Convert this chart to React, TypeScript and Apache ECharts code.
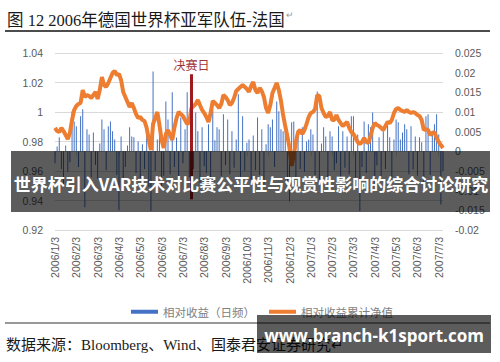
import React, { useEffect, useRef } from 'react';
import * as echarts from 'echarts';

const monthLabels = [
  '2006/1/3', '2006/2/3', '2006/3/3', '2006/4/3', '2006/5/3', '2006/6/3', '2006/7/3',
  '2006/8/3', '2006/9/3', '2006/10/3', '2006/11/3', '2006/12/3', '2007/1/3', '2007/2/3',
  '2007/3/3', '2007/4/3', '2007/5/3', '2007/6/3', '2007/7/3',
];
const pointsPerMonth = 10;
const trailingPoints = 2;

// 相对收益累计净值 (left axis)
const netValue = [
  0.9892, 0.9871, 0.9864, 0.9892, 0.9871, 0.9844, 0.9817, 0.9858, 0.9946, 1.0014,
  1.0041, 1.0054, 1.0061, 1.0149, 1.0102, 1.0115, 1.0108, 1.0095, 1.0115, 1.0136,
  1.0088, 1.0149, 1.0237, 1.0183, 1.0170, 1.0197, 1.0231, 1.0264, 1.0278, 1.0251,
  1.0258, 1.0217, 1.0136, 1.0102, 1.0068, 1.0034, 1.0061, 1.0027, 0.9986, 0.9959,
  0.9966, 0.9946, 0.9939, 0.9892, 0.9810, 0.9742, 0.9919, 0.9959, 1.0000, 0.9912,
  0.9810, 0.9756, 0.9851, 0.9878, 0.9844, 0.9810, 0.9892, 0.9959, 1.0000, 0.9986,
  0.9973, 0.9946, 0.9919, 0.9932, 1.0027, 1.0041, 1.0054, 1.0081, 1.0047, 1.0014,
  0.9993, 0.9966, 0.9932, 0.9993, 1.0075, 1.0061, 1.0047, 1.0027, 1.0054, 1.0115,
  1.0102, 1.0081, 1.0047, 1.0061, 1.0095, 1.0142, 1.0156, 1.0170, 1.0183, 1.0170,
  1.0156, 1.0136, 1.0176, 1.0203, 1.0149, 1.0129, 1.0163, 1.0142, 1.0102, 1.0027,
  0.9993, 1.0047, 1.0129, 1.0163, 1.0197, 1.0149, 1.0075, 0.9980, 0.9905, 0.9837,
  0.9756, 0.9634, 0.9708, 0.9797, 0.9864, 0.9878, 0.9851, 0.9878, 0.9919, 0.9966,
  0.9993, 1.0000, 1.0020, 1.0115, 1.0108, 1.0027, 0.9993, 0.9966, 0.9973, 1.0000,
  0.9946, 0.9946, 0.9980, 0.9946, 0.9925, 0.9905, 0.9919, 0.9932, 0.9892, 0.9864,
  0.9851, 0.9824, 0.9797, 0.9783, 0.9797, 0.9824, 0.9797, 0.9790, 0.9837, 0.9892,
  0.9925, 0.9912, 0.9905, 0.9892, 0.9878, 0.9905, 0.9932, 0.9925, 0.9946, 0.9993,
  1.0020, 1.0027, 1.0014, 1.0007, 1.0000, 1.0014, 1.0000, 0.9993, 1.0000, 0.9993,
  0.9980, 0.9973, 0.9946, 0.9878, 0.9885, 0.9878, 0.9844, 0.9858, 0.9864, 0.9824,
  0.9797, 0.9776, 0.9756,
];

// 相对收益（日频） (right axis)
const dailyReturn = [
  -0.0030, 0.0012, 0.0036, -0.0045, -0.0084, 0.0015, -0.0052, -0.0028, 0.0102, 0.0076,
  0.0064, -0.0040, 0.0089, 0.0107, -0.0142, 0.0056, 0.0043, -0.0065, 0.0048, -0.0035,
  -0.0070, 0.0020, 0.0081, 0.0056, -0.0048, 0.0064, 0.0076, 0.0051, 0.0030, -0.0060,
  -0.0150, 0.0038, -0.0075, -0.0040, 0.0015, 0.0061, 0.0038, 0.0036, -0.0055, 0.0025,
  -0.0068, 0.0018, -0.0045, 0.0048, -0.0090, -0.0152, 0.0203, -0.0050, 0.0030, 0.0086,
  -0.0095, -0.0062, 0.0127, 0.0081, -0.0058, 0.0150, -0.0040, 0.0035, -0.0072, 0.0086,
  -0.0030, 0.0056, 0.0150, -0.0066, 0.0040, -0.0045, 0.0099, 0.0051, -0.0080, 0.0061,
  -0.0038, -0.0055, 0.0069, -0.0070, 0.0107, 0.0028, 0.0061, 0.0056, -0.0062, 0.0094,
  -0.0035, 0.0081, -0.0058, 0.0051, -0.0042, 0.0030, 0.0145, -0.0068, 0.0089, -0.0050,
  0.0022, 0.0030, -0.0075, 0.0040, -0.0048, 0.0086, -0.0060, 0.0056, -0.0085, 0.0018,
  0.0069, 0.0061, 0.0081, -0.0040, 0.0127, 0.0102, 0.0056, 0.0051, 0.0081, -0.0098,
  -0.0127, 0.0074, 0.0076, -0.0070, 0.0036, -0.0045, 0.0061, -0.0052, 0.0025, 0.0030,
  0.0056, 0.0043, -0.0060, 0.0152, -0.0078, 0.0020, 0.0061, 0.0038, -0.0065, 0.0051,
  0.0038, -0.0048, -0.0030, 0.0064, -0.0070, 0.0051, -0.0042, 0.0038, -0.0058, 0.0089,
  0.0089, -0.0066, 0.0043, -0.0152, -0.0040, 0.0076, -0.0055, 0.0069, 0.0061, 0.0099,
  -0.0084, -0.0036, 0.0036, -0.0062, 0.0051, -0.0045, 0.0076, 0.0036, -0.0070, 0.0030,
  0.0081, 0.0074, 0.0030, 0.0048, 0.0069, 0.0056, -0.0058, 0.0064, -0.0046, 0.0038,
  -0.0062, 0.0036, 0.0023, -0.0080, 0.0089, 0.0094, -0.0060, 0.0048, 0.0069, 0.0094,
  0.0043, -0.0135, -0.0050,
];

const finalDayIndex = 64;
const finalDayTop = 0.0196;
const finalDayBottom = -0.0122;
const finalDayLabelValue = 0.0221;

const titleText = '图 12 2006年德国世界杯亚军队伍-法国';
const sourceText = '数据来源：Bloomberg、Wind、国泰君安证券研究';
const bannerText = '世界杯引入VAR技术对比赛公平性与观赏性影响的综合讨论研究';
const siteText = 'www.branch-k1sport.com';

function buildCategories(): string[] {
  const cats: string[] = [];
  monthLabels.forEach((m, i) => {
    cats.push(m);
    const fill = i < monthLabels.length - 1 ? pointsPerMonth - 1 : trailingPoints;
    for (let j = 1; j <= fill; j++) cats.push(m + '#' + j);
  });
  return cats;
}

export default function App() {
  const ref = useRef<HTMLDivElement>(null);
  useEffect(() => {
    if (!ref.current) return;
    const chart = echarts.init(ref.current, null, { renderer: 'svg' });
    const categories = buildCategories();
    const showTick = (i: number) => i % pointsPerMonth === 0;
    const cjk = '"Noto Sans CJK SC", sans-serif';
    chart.setOption({
      animation: false,
      backgroundColor: '#ffffff',
      grid: { left: 55, right: 57, top: 53, bottom: 132 },
      legend: {
        left: 126,
        top: 301,
        itemWidth: 27,
        itemHeight: 4,
        itemGap: 14,
        textStyle: { color: '#808080', fontSize: 11.5, fontFamily: cjk },
        data: [
          { name: '相对收益（日频）', icon: 'rect' },
          { name: '相对收益累计净值', icon: 'rect' },
        ],
      },
      xAxis: {
        type: 'category',
        data: categories,
        boundaryGap: false,
        axisLine: { lineStyle: { color: '#d9d9d9' } },
        axisTick: { show: true, interval: showTick, length: 5, lineStyle: { color: '#d9d9d9' } },
        axisLabel: {
          interval: showTick,
          rotate: 90,
          margin: 7,
          color: '#595959',
          fontSize: 10.5,
          fontFamily: '"Liberation Sans", sans-serif',
        },
        splitLine: { show: false },
      },
      yAxis: [
        {
          type: 'value',
          min: 0.92,
          max: 1.04,
          interval: 0.02,
          position: 'left',
          axisLine: { show: false },
          axisTick: { show: false },
          splitLine: { lineStyle: { color: '#d9d9d9' } },
          axisLabel: {
            margin: 12,
            color: '#595959',
            fontSize: 10.5,
            fontFamily: '"Liberation Sans", sans-serif',
            formatter: (v: number) => String(+v.toFixed(2)),
          },
        },
        {
          type: 'value',
          min: -0.02,
          max: 0.025,
          interval: 0.005,
          position: 'right',
          axisLine: { show: false },
          axisTick: { show: false },
          splitLine: { show: false },
          axisLabel: {
            margin: 12,
            color: '#595959',
            fontSize: 10.5,
            fontFamily: '"Liberation Sans", sans-serif',
            formatter: (v: number) => String(+v.toFixed(3)),
          },
        },
      ],
      series: [
        {
          name: '相对收益（日频）',
          type: 'bar',
          yAxisIndex: 1,
          data: dailyReturn,
          barWidth: 1,
          itemStyle: { color: '#4472C4' },
          z: 2,
          markLine: {
            silent: true,
            symbol: ['none', 'none'],
            label: { show: false },
            lineStyle: { color: '#9e1b20', width: 3, type: 'solid' },
            data: [[
              { coord: [finalDayIndex, finalDayTop] },
              { coord: [finalDayIndex, finalDayBottom] },
            ]],
          },
          markPoint: {
            silent: true,
            data: [{
              coord: [finalDayIndex, finalDayLabelValue],
              symbol: 'rect',
              symbolSize: [1, 1],
              itemStyle: { color: 'rgba(0,0,0,0)' },
              label: {
                show: true,
                position: 'inside',
                formatter: '决赛日',
                color: '#a0343a',
                fontSize: 12,
                fontFamily: cjk,
              },
            }],
          },
        },
        {
          name: '相对收益累计净值',
          type: 'line',
          yAxisIndex: 0,
          data: netValue,
          symbol: 'none',
          showSymbol: false,
          lineStyle: { color: '#ED7D31', width: 4 },
          itemStyle: { color: '#ED7D31' },
          z: 3,
        },
      ],
      graphic: [
        {
          type: 'text', x: 7, y: 20, z: 50,
          style: { text: titleText, fontSize: 16.5, fontFamily: '"Liberation Serif", "Noto Sans CJK SC", serif', fill: '#1a1a1a', verticalAlign: 'middle' },
        },
        {
          type: 'text', x: 286, y: 15, z: 50,
          style: { text: '↵', fontSize: 9, fill: '#999999', verticalAlign: 'middle' },
        },
        {
          type: 'line', z: 50,
          shape: { x1: 5, y1: 31, x2: 490, y2: 31 },
          style: { stroke: '#111111', lineWidth: 1.3 },
        },
        {
          type: 'line', z: 50,
          shape: { x1: 5, y1: 323, x2: 490, y2: 323 },
          style: { stroke: '#333333', lineWidth: 1 },
        },
        {
          type: 'text', x: 6, y: 345, z: 50,
          style: { text: sourceText + '↵', fontSize: 15, fontFamily: '"Liberation Serif", "Noto Sans CJK SC", serif', fill: '#1a1a1a', verticalAlign: 'middle' },
        },
        {
          type: 'rect', z: 100,
          shape: { x: 11, y: 151, width: 479, height: 61 },
          style: { fill: 'rgba(0,0,0,0.64)' },
        },
        {
          type: 'text', x: 251, y: 183, z: 101,
          style: { text: bannerText, fontSize: 17, fontWeight: 'bold', fontFamily: cjk, fill: '#ffffff', align: 'center', verticalAlign: 'middle' },
        },
        {
          type: 'rect', z: 100,
          shape: { x: 257, y: 315, width: 234, height: 38 },
          style: { fill: 'rgba(0,0,0,0.64)' },
        },
        {
          type: 'text', x: 374, y: 335, z: 101,
          style: { text: siteText, fontSize: 17, fontWeight: 'bold', fontFamily: '"Open Sans", "Noto Sans", sans-serif', fill: '#ffffff', align: 'center', verticalAlign: 'middle' },
        },
      ],
    });
    return () => chart.dispose();
  }, []);
  return (
    <div
      ref={ref}
      style={{ position: 'absolute', left: 0, top: 0, width: 500, height: 362, background: '#fff' }}
    />
  );
}
